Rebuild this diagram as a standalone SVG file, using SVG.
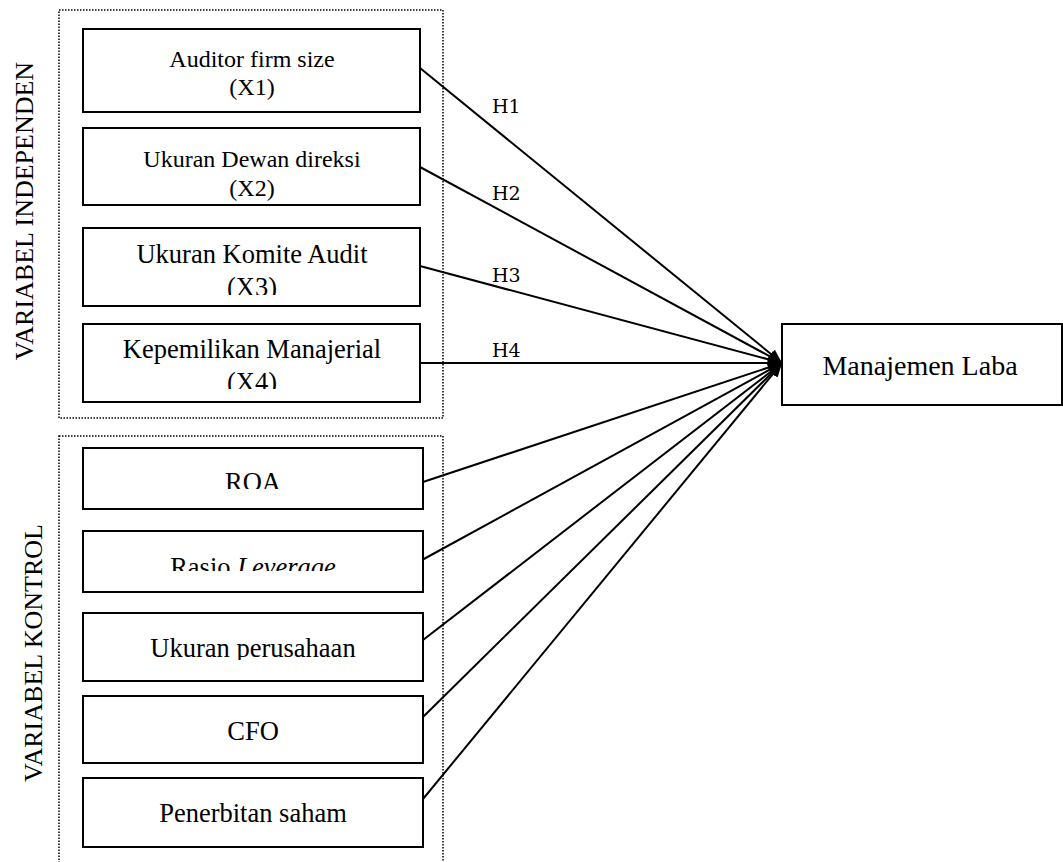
<svg xmlns="http://www.w3.org/2000/svg" width="1063" height="862" viewBox="0 0 1063 862">
<style>
.box{fill:#fff;stroke:#000;stroke-width:2}
.grp{fill:none;stroke:#000;stroke-width:1.5;stroke-dasharray:1.5 1.5}
.t{font-family:"Liberation Serif","Times New Roman",serif;fill:#000;text-anchor:middle}
.h{font-family:"DejaVu Serif",serif;font-size:19px;fill:#000}
.c{fill:none;stroke:#000;stroke-width:2;marker-end:url(#ah)}
</style>
<defs>
<marker id="ah" markerUnits="userSpaceOnUse" markerWidth="14" markerHeight="12" refX="12" refY="5" orient="auto" viewBox="0 0 12 10">
<path d="M0,0 L12,5 L0,10 Z" fill="#000"/>
</marker>
<clipPath id="cx3"><rect x="83" y="228" width="337" height="67"/></clipPath>
<clipPath id="cx4"><rect x="83" y="324" width="337" height="65"/></clipPath>
<clipPath id="croa"><rect x="83" y="448" width="340" height="41"/></clipPath>
<clipPath id="clev"><rect x="83" y="531" width="340" height="40"/></clipPath>
<clipPath id="cuk"><rect x="83" y="613" width="340" height="47"/></clipPath>
</defs>
<rect class="grp" x="59" y="10" width="384" height="408"/>
<rect class="grp" x="59" y="436" width="384" height="440"/>
<text class="t" font-size="26" transform="translate(33,211) rotate(-90)">VARIABEL INDEPENDEN</text>
<text class="t" font-size="26" transform="translate(42,653) rotate(-90)">VARIABEL KONTROL</text>
<g id="connectors">
<line class="c" x1="420" y1="68" x2="782" y2="363"/>
<line class="c" x1="420" y1="167" x2="782" y2="363"/>
<line class="c" x1="420" y1="266" x2="782" y2="363"/>
<line class="c" x1="420" y1="363" x2="782" y2="363"/>
<line class="c" x1="423" y1="482" x2="782" y2="363"/>
<line class="c" x1="422" y1="560" x2="782" y2="363"/>
<line class="c" x1="423" y1="640" x2="782" y2="363"/>
<line class="c" x1="423" y1="717" x2="782" y2="363"/>
<line class="c" x1="423" y1="799" x2="782" y2="363"/>
<text class="h" x="492" y="113">H1</text>
<text class="h" x="492" y="200">H2</text>
<text class="h" x="492" y="282">H3</text>
<text class="h" x="492" y="357">H4</text>
</g>
<g id="x1">
<rect class="box" x="83" y="29" width="337" height="83"/>
<text class="t" font-size="24" x="252" y="67">Auditor firm size</text>
<text class="t" font-size="24" x="252" y="95">(X1)</text>
</g>
<g id="x2">
<rect class="box" x="83" y="128" width="337" height="77"/>
<text class="t" font-size="24" x="252" y="167">Ukuran Dewan direksi</text>
<text class="t" font-size="24" x="252" y="196">(X2)</text>
</g>
<g id="x3">
<rect class="box" x="83" y="228" width="337" height="78"/>
<g clip-path="url(#cx3)">
<text class="t" font-size="26.5" x="252" y="263">Ukuran Komite Audit</text>
<text class="t" font-size="26.5" x="252" y="296">(X3)</text>
</g>
</g>
<g id="x4">
<rect class="box" x="83" y="324" width="337" height="78"/>
<g clip-path="url(#cx4)">
<text class="t" font-size="26.5" x="252" y="358">Kepemilikan Manajerial</text>
<text class="t" font-size="26.5" x="252" y="391">(X4)</text>
</g>
</g>
<g id="roa">
<rect class="box" x="83" y="448" width="340" height="61"/>
<g clip-path="url(#croa)">
<text class="t" font-size="26.5" x="253" y="491">ROA</text>
</g>
</g>
<g id="leverage">
<rect class="box" x="83" y="531" width="340" height="61"/>
<g clip-path="url(#clev)">
<text class="t" font-size="26.5" x="253" y="575.5">Rasio <tspan font-style="italic">Leverage</tspan></text>
</g>
</g>
<g id="ukuran">
<rect class="box" x="83" y="613" width="340" height="68"/>
<g clip-path="url(#cuk)">
<text class="t" font-size="26.5" x="253" y="657">Ukuran perusahaan</text>
</g>
</g>
<g id="cfo">
<rect class="box" x="83" y="696" width="340" height="67"/>
<text class="t" font-size="26.5" x="253" y="740">CFO</text>
</g>
<g id="saham">
<rect class="box" x="83" y="778" width="340" height="69"/>
<text class="t" font-size="26.5" x="253" y="822">Penerbitan saham</text>
</g>
<g id="manajemen">
<rect class="box" x="782" y="324" width="280" height="81"/>
<text class="t" font-size="28" x="920" y="375">Manajemen Laba</text>
</g>
</svg>
